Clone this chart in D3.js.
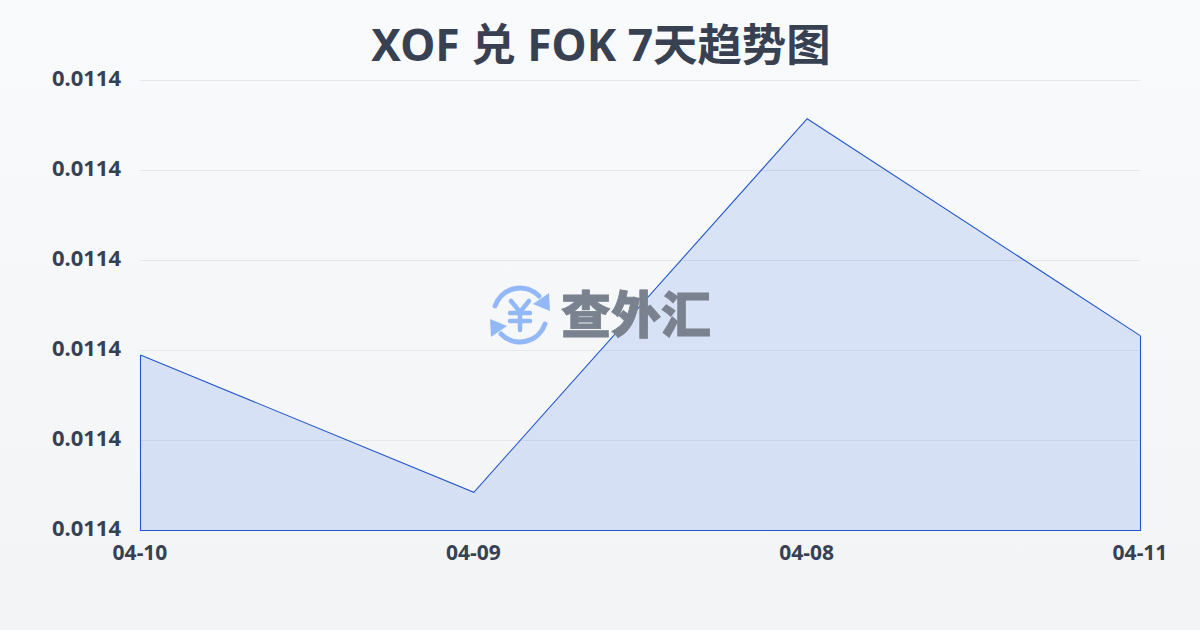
<!DOCTYPE html>
<html><head><meta charset="utf-8">
<script src="https://cdn.jsdelivr.net/npm/d3@7/dist/d3.min.js"></script>
<style>html,body{margin:0;padding:0;width:1200px;height:630px;overflow:hidden}svg{display:block}text{font-family:"Noto Sans","Noto Sans CJK SC",sans-serif}</style>
</head><body><svg id="c" width="1200" height="630"></svg>
<script>
const titleText = "XOF 兑 FOK 7天趋势图";
const categories = ["04-10","04-09","04-08","04-11"];
const values = [0.0114156,0.0114034,0.0114366,0.0114173];
const yTicks = [0.01140,0.011408,0.011416,0.011424,0.011432,0.01144];
const logoText = "查外汇";

const svg = d3.select("#c");
const defs = svg.append("defs");
const bg = defs.append("linearGradient").attr("id","bg").attr("x1",0).attr("y1",0).attr("x2",0).attr("y2",1);
bg.append("stop").attr("offset",0).attr("stop-color","#f9fafc");
bg.append("stop").attr("offset",1).attr("stop-color","#f3f4f6");
svg.append("rect").attr("width",1200).attr("height",630).attr("fill","url(#bg)");

const x = d3.scalePoint().domain(categories).range([140,1140]);
const y = d3.scaleLinear().domain([0.0114,0.01144]).range([530,80]);
const fmt = d3.format(".4f");

const grid = svg.append("g");
grid.selectAll("line").data(yTicks.slice(1)).join("line")
  .attr("x1",140).attr("x2",1140).attr("y1",d=>y(d)+.5).attr("y2",d=>y(d)+.5)
  .attr("stroke","#e4e7eb").attr("stroke-width",1);

const plot = svg.append("g").attr("transform","translate(.5,.5)");
const area = d3.area().x((d,i)=>x(categories[i])).y0(y(0.0114)).y1(d=>y(d));
plot.append("path").datum(values).attr("d",area).attr("fill","#316ce5").attr("fill-opacity",0.15);

// watermark
const logo = svg.append("g");
const ic = logo.append("g").attr("transform","translate(520,315)").attr("fill","none").attr("stroke","#93b8f8").attr("stroke-linecap","round");
ic.append("path").attr("d","M-25,-9A26.5,26.5 0 0 1 19,-19").attr("stroke-width",5);
ic.append("path").attr("d","M25,9A26.5,26.5 0 0 1 -19,19").attr("stroke-width",5);
ic.append("path").attr("d","M29,-22L30,-4L13,-11Z").attr("fill","#93b8f8").attr("stroke","none");
ic.append("path").attr("d","M-29,22L-30,4L-13,11Z").attr("fill","#93b8f8").attr("stroke","none");
ic.append("path").attr("d","M-9,-14L0,-3L9,-14M0,-3V15M-10,-2H10M-10,6H10").attr("stroke-width",4.5);
logo.append("text").attr("x",636).attr("y",333).attr("text-anchor","middle")
  .attr("font-size",50).attr("font-weight",900).attr("fill","#7a828f")
  .attr("stroke","#7a828f").attr("stroke-width",0.8)
  .style("font-family",'"Noto Sans CJK SC"').text(logoText);

plot.append("path").datum(values).attr("d",d3.line().x((d,i)=>x(categories[i])).y(d=>y(d))).attr("fill","none").attr("stroke","#2257c8").attr("stroke-width",1.1);
plot.append("path").attr("d",`M${x(categories[0])},${y(values[0])}V${y(0.0114)}H${x(categories[3])}V${y(values[3])}`).attr("fill","none").attr("stroke","#2257c8").attr("stroke-width",1.1);

svg.append("g").selectAll("text").data(yTicks).join("text")
  .attr("x",121).attr("y",d=>y(d)+6).attr("text-anchor","end")
  .attr("font-size",22).attr("font-weight",700).attr("fill","#374151").text(d=>fmt(d));
svg.append("g").selectAll("text").data(categories).join("text")
  .attr("x",d=>x(d)).attr("y",560).attr("text-anchor","middle")
  .attr("font-size",21).attr("font-weight",700).attr("fill","#374151").text(d=>d);

svg.append("text").attr("x",601).attr("y",61).attr("text-anchor","middle")
  .attr("font-size",44.4).attr("font-weight",700).attr("fill","#374151").text(titleText);
</script></body></html>
